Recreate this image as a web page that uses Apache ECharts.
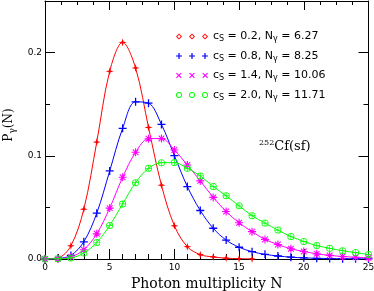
<!DOCTYPE html>
<html>
<head>
<meta charset="utf-8">
<script src="https://cdn.jsdelivr.net/npm/echarts@6/dist/echarts.min.js"></script>
<style>
html,body{margin:0;padding:0;background:#fff;}
#chart{width:374px;height:291px;}
</style>
</head>
<body>
<div id="chart"></div>
<script>
// ---- data ----
const nValues = [0,1,2,3,4,5,6,7,8,9,10,11,12,13,14,15,16,17,18,19,20,21,22,23,24,25];
const csLabels = ['0.2', '0.8', '1.4', '2.0'];
const nGamma = ['6.27', '8.25', '10.06', '11.71'];
const seriesNames = ['cs0.2', 'cs0.8', 'cs1.4', 'cs2.0'];
const pRed = [0, 0.001, 0.0128, 0.0483, 0.1133, 0.1819, 0.2099, 0.1851, 0.1275, 0.0715, 0.0322, 0.0119, 0.0042, 0.002, 0.0008, 0.0003, 0.0001];
const pBlue = [0, 0.0005, 0.0035, 0.0167, 0.0444, 0.0853, 0.1266, 0.1523, 0.151, 0.1304, 0.1001, 0.0702, 0.047, 0.0298, 0.0183, 0.0114, 0.0071, 0.0045, 0.0029, 0.0018, 0.0011, 0.0007, 0.0004, 0.0003, 0.0002, 0.0001];
const pMagenta = [0, 0.0003, 0.002, 0.009, 0.0244, 0.0493, 0.0792, 0.1034, 0.1165, 0.1167, 0.1056, 0.0911, 0.0757, 0.0597, 0.046, 0.0351, 0.0265, 0.019, 0.014, 0.0099, 0.0073, 0.005, 0.0035, 0.0024, 0.0017, 0.0011];
const pGreen = [0, 0.0002, 0.001, 0.0058, 0.016, 0.0325, 0.0534, 0.074, 0.0879, 0.0933, 0.0934, 0.0879, 0.0805, 0.0702, 0.0612, 0.0515, 0.042, 0.0348, 0.028, 0.0218, 0.017, 0.013, 0.0104, 0.008, 0.0062, 0.0043];
const xRange = {min: 0, max: 25};
const xMajor = 5, xMinorBottom = 1, xMinorTop = 1.25;
const yRange = {min: 0, max: 0.25};
const yMajor = 0.1, yMinor = 0.05;

// ---- styling helpers ----
const colors = ['#ff0000', '#0000ff', '#ff00ff', '#00ff00'];
function pts(arr){ return arr.map((v,i)=>[nValues[i], v]); }

function plusPoly(cx, cy, h, t){
  return `M${cx-t},${cy-h} L${cx+t},${cy-h} L${cx+t},${cy-t} L${cx+h},${cy-t} L${cx+h},${cy+t} L${cx+t},${cy+t} L${cx+t},${cy+h} L${cx-t},${cy+h} L${cx-t},${cy+t} L${cx-h},${cy+t} L${cx-h},${cy-t} L${cx-t},${cy-t} Z `;
}
function xPoly(cx, cy, h, d){
  return `M${cx-h},${cy-h+d} L${cx-h+d},${cy-h} L${cx},${cy-d} L${cx+h-d},${cy-h} L${cx+h},${cy-h+d} L${cx+d},${cy} L${cx+h},${cy+h-d} L${cx+h-d},${cy+h} L${cx},${cy+d} L${cx-h+d},${cy+h} L${cx-h},${cy+h-d} L${cx-d},${cy} Z `;
}
function ring(cx, cy, r, ri){
  return `M${cx-r},${cy} A${r},${r} 0 1,1 ${cx+r},${cy} A${r},${r} 0 1,1 ${cx-r},${cy} Z M${cx-ri},${cy} A${ri},${ri} 0 1,0 ${cx+ri},${cy} A${ri},${ri} 0 1,0 ${cx-ri},${cy} Z `;
}
function openDiamond(cx, cy, h, hi){
  return `M${cx},${cy-h} L${cx+h},${cy} L${cx},${cy+h} L${cx-h},${cy} Z M${cx},${cy-hi} L${cx-hi},${cy} L${cx},${cy+hi} L${cx+hi},${cy} Z `;
}

// curve markers
const symRed = 'path://M5,0 L6.1,3.9 L10,5 L6.1,6.1 L5,10 L3.9,6.1 L0,5 L3.9,3.9 Z';
const symBlue = 'path://' + plusPoly(5,5,5,0.8);
const symMag = 'path://' + plusPoly(5,5,5,0.7) + xPoly(5,5,4,0.9);
const symGreen = 'path://' + ring(5,5,5,3.9) + plusPoly(5,5,5,0.5);

// legend icons (three markers each)
const centers = [3, 16, 29];
const legRed = 'path://' + centers.map(c=>openDiamond(c,3,3,1.7)).join('');
const legBlue = 'path://' + centers.map(c=>plusPoly(c,3,3,0.6)).join('');
const legMag = 'path://' + centers.map(c=>xPoly(c,3,2.8,0.8)).join('');
const legGreen = 'path://' + centers.map(c=>ring(c,3,3,2.1)).join('');

const serif = 'DejaVu Serif';
const sans = 'DejaVu Sans';

function mkSeries(i, arr, sym, size){
  return {
    name: seriesNames[i],
    type: 'line',
    xAxisIndex: 0, yAxisIndex: 0,
    data: pts(arr),
    smooth: 0.35,
    symbol: sym,
    symbolSize: size,
    showSymbol: true,
    lineStyle: {color: colors[i], width: 1},
    itemStyle: {color: colors[i], borderWidth: 0},
    emphasis: {disabled: true},
    z: 2 + i
  };
}

function tickAxis(kind, position, interval, len, showLine, extra){
  const range = kind === 'x' ? xRange : yRange;
  return Object.assign({
    type: 'value', min: range.min, max: range.max, interval: interval,
    position: position,
    axisLine: {show: showLine, onZero: false, lineStyle: {color: '#000', width: 1}},
    axisTick: {show: true, inside: true, length: len, lineStyle: {color: '#000', width: 1}},
    minorTick: {show: false},
    axisLabel: {show: false},
    splitLine: {show: false}
  }, extra || {});
}

const option = {
  animation: false,
  backgroundColor: '#fff',
  grid: {left: 45, right: 5.5, top: 1, bottom: 32, containLabel: false, outerBoundsMode: 'none'},
  legend: {
    orient: 'vertical',
    left: 171,
    top: 26,
    itemWidth: 32,
    itemHeight: 6,
    itemGap: 7.5,
    selectedMode: false,
    itemStyle: {borderWidth: 0},
    data: [
      {name: seriesNames[0], icon: legRed},
      {name: seriesNames[1], icon: legBlue},
      {name: seriesNames[2], icon: legMag},
      {name: seriesNames[3], icon: legGreen}
    ],
    formatter: function(name){
      const i = seriesNames.indexOf(name);
      return '{t|c}{s|S}{t| = ' + csLabels[i] + ', N}{s|γ}{t| = ' + nGamma[i] + '}';
    },
    textStyle: {
      color: '#000', fontFamily: sans, fontSize: 11,
      rich: {
        t: {color: '#000', fontFamily: sans, fontSize: 11},
        s: {color: '#000', fontFamily: sans, fontSize: 8, padding: [5,0,0,0]}
      }
    }
  },
  xAxis: [
    tickAxis('x', 'bottom', xMajor, 10, true, {
      name: 'Photon multiplicity N', nameLocation: 'middle', nameGap: 15,
      nameTextStyle: {fontFamily: serif, fontSize: 14, color: '#000'},
      axisLabel: {show: true, color: '#000', fontFamily: sans, fontSize: 9, margin: 4}
    }),
    tickAxis('x', 'bottom', xMinorBottom, 5, false),
    tickAxis('x', 'top', xMajor, 9, true),
    tickAxis('x', 'top', xMinorTop, 4, false)
  ],
  yAxis: [
    tickAxis('y', 'left', yMajor, 10, true, {
      name: '{a|P}{b|γ}{a|(N)}', nameLocation: 'middle', nameGap: 26, nameRotate: 90,
      nameTextStyle: {
        color: '#000', fontFamily: serif, fontSize: 12, padding: [0, 0, 0, 10],
        rich: {
          a: {color: '#000', fontFamily: serif, fontSize: 12},
          b: {color: '#000', fontFamily: serif, fontSize: 9, padding: [6,0,0,0]}
        }
      },
      axisLabel: {show: true, color: '#000', fontFamily: sans, fontSize: 9, margin: 3,
        showMaxLabel: false, formatter: v => v.toFixed(1)}
    }),
    tickAxis('y', 'left', yMinor, 5, false),
    tickAxis('y', 'right', yMajor, 10, true),
    tickAxis('y', 'right', yMinor, 5, false)
  ],
  graphic: [{
    type: 'text', left: 259, top: 139,
    style: {
      text: '{u|252}{m|Cf(sf)}',
      fill: '#000',
      rich: {
        u: {fill: '#000', fontFamily: serif, fontSize: 8, padding: [0,0,7,0]},
        m: {fill: '#000', fontFamily: serif, fontSize: 13}
      }
    }
  }],
  series: [
    mkSeries(0, pRed, symRed, 8),
    mkSeries(1, pBlue, symBlue, 8),
    mkSeries(2, pMagenta, symMag, 8),
    mkSeries(3, pGreen, symGreen, 7)
  ]
};

const chart = echarts.init(document.getElementById('chart'), null, {renderer: 'canvas'});
chart.setOption(option);
</script>
</body>
</html>
